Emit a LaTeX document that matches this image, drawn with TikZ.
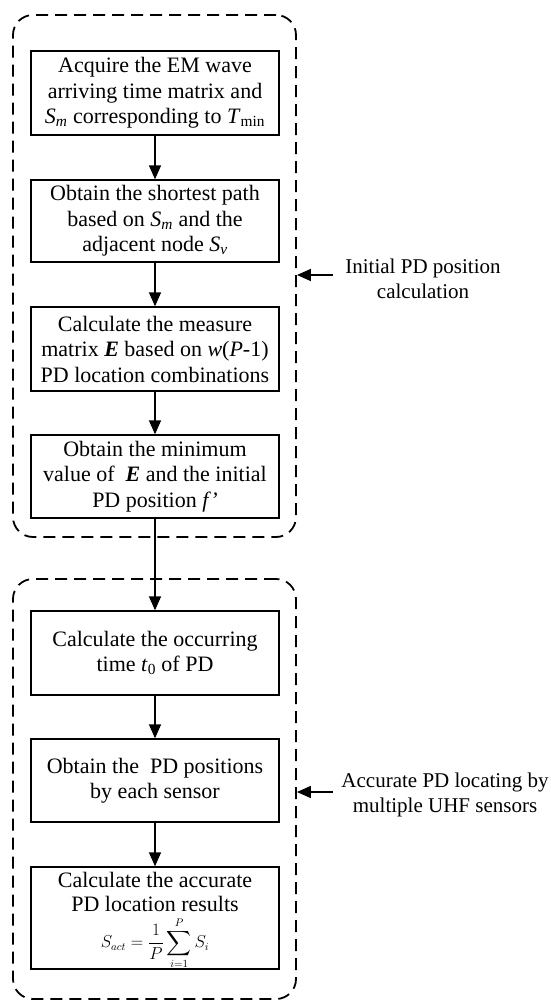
\documentclass[tikz,border=0pt]{standalone}
\usepackage{amsmath}
\usepackage{fontspec}
\setmainfont{Liberation Serif}
\usetikzlibrary{arrows.meta}
\newcommand{\iv}[1]{\textit{#1}}
\newcommand{\bE}{\textbf{\textit{E}}}
\begin{document}
\begin{tikzpicture}[x=1pt,y=-1pt,
  stepbox/.style={draw,line width=1.3pt,minimum width=248pt,inner sep=0pt,
    align=center,font=\fontsize{22}{25.5}\selectfont},
  groupbox/.style={draw,line width=1.8pt,dash pattern=on 12pt off 7pt,rounded corners=20pt,
    minimum width=283pt,inner sep=0pt},
  sidelab/.style={align=center,font=\fontsize{21}{25.5}\selectfont,inner sep=0pt},
  arr/.style={line width=1.4pt,-{Triangle[length=14pt,width=12pt]}}]
\useasboundingbox (0,0) rectangle (551,1001);
\fill[white] (0,0) rectangle (551,1001);
% group boxes
\node[groupbox,minimum height=522pt] (g1) at (154.5,276) {};
\node[groupbox,minimum height=420pt] (g2) at (154.5,789) {};
% steps
\node[stepbox,minimum height=84pt] (b1) at (155,93)
  {Acquire the EM wave\\arriving time matrix and\\\iv{S}\textsubscript{\iv{m}} corresponding to \iv{T}\textsubscript{min}};
\node[stepbox,minimum height=82pt] (b2) at (155,221)
  {Obtain the shortest path\\based on \iv{S}\textsubscript{\iv{m}} and the\\adjacent node \iv{S}\textsubscript{\iv{v}}};
\node[stepbox,minimum height=84pt] (b3) at (155,349)
  {Calculate the measure\\matrix \bE{} based on \iv{w}(\iv{P}-1)\\PD location combinations};
\node[stepbox,minimum height=83pt] (b4) at (155,476.5)
  {Obtain the minimum\\value of~ \bE{} and the initial\\PD position \iv{f'}};
\node[stepbox,minimum height=84pt] (b5) at (155,653)
  {Calculate the occurring\\time \iv{t}\textsubscript{0} of PD};
\node[stepbox,minimum height=83pt] (b6) at (155,780.5)
  {Obtain the~ PD positions\\by each sensor};
\node[stepbox,minimum height=102pt] (b7) at (155,918) {};
\node[align=center,inner sep=0pt,font=\fontsize{22}{24}\selectfont,anchor=north] (t7) at (155,872)
  {Calculate the accurate\\PD location results};
\node[inner sep=0pt,font=\fontsize{16}{18}\selectfont] (f7) at (155,943)
  {$\displaystyle S_{act}=\frac{1}{P}\sum_{i=1}^{P}S_i$};
% arrows
\draw[arr] (b1) -- (b2);
\draw[arr] (b2) -- (b3);
\draw[arr] (b3) -- (b4);
\draw[arr] (b4) -- (b5);
\draw[arr] (b5) -- (b6);
\draw[arr] (b6) -- (b7);
% side labels
\node[sidelab] (l1) at (423,279) {Initial PD position\\calculation};
\node[sidelab] (l2) at (445,795) {Accurate PD locating by\\multiple UHF sensors};
\coordinate (a1) at (333,275);
\coordinate (a2) at (333,792);
\draw[arr] (a1) -- (g1.east |- a1);
\draw[arr] (a2) -- (g2.east |- a2);
\end{tikzpicture}
\end{document}
